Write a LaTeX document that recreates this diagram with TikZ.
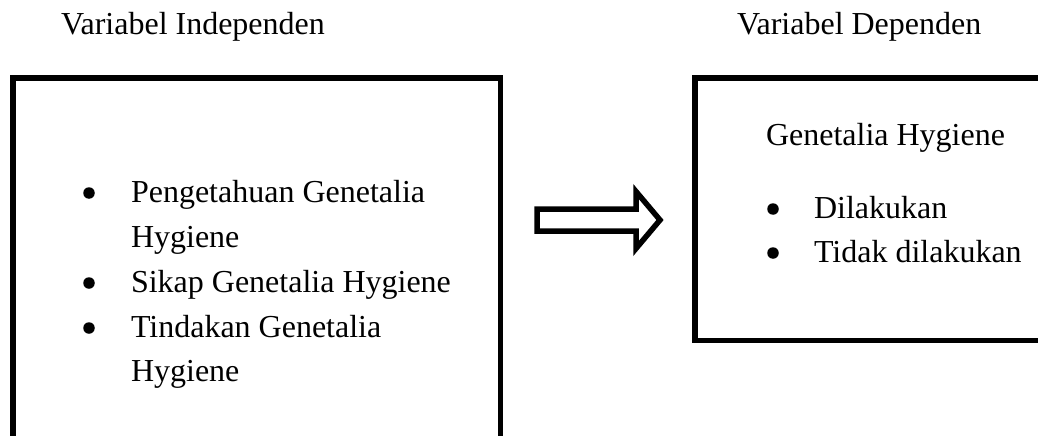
\documentclass[tikz,border=0pt]{standalone}
\usepackage{fontspec}
\setmainfont{Liberation Serif}
\begin{document}
\begin{tikzpicture}[x=1pt,y=-1pt,
  frame/.style={draw=black,line width=5.5pt,inner sep=0pt,outer sep=0pt,anchor=north west},
  label/.style={inner sep=0pt,outer sep=0pt,anchor=base west,font=\fontsize{32pt}{44.8pt}\selectfont},
  dot/.style={circle,fill=black,inner sep=0pt,outer sep=0pt,minimum size=11.5pt},
  hollowarrow/.style={draw=black,line width=5.5pt,fill=white,line join=miter}]
\useasboundingbox (0,0) rectangle (1038,436);
\clip (0,0) rectangle (1038,436);

% headings
\node[label] (hIndep) at (61,35) {Variabel Independen};
\node[label] (hDep) at (737,35) {Variabel Dependen};

% independent variables
\node[frame,minimum width=487.7pt,minimum height=390pt] (indep) at (12.8,78) {};
\node[dot] (b1) at (89,193) {};
\node[label] (t1) at (131,202) {Pengetahuan Genetalia};
\node[label] (t1b) at (131,247) {Hygiene};
\node[dot] (b2) at (89,283) {};
\node[label] (t2) at (131,292) {Sikap Genetalia Hygiene};
\node[dot] (b3) at (89,328) {};
\node[label] (t3) at (131,337) {Tindakan Genetalia};
\node[label] (t3b) at (131,381) {Hygiene};

% dependent variable
\node[frame,minimum width=420pt,minimum height=262.5pt] (dep) at (695,78) {};
\node[label] (d0) at (766,145) {Genetalia Hygiene};
\node[dot] (db1) at (773,209) {};
\node[label] (d1) at (814,218) {Dilakukan};
\node[dot] (db2) at (773,253) {};
\node[label] (d2) at (814,262) {Tidak dilakukan};

% block arrow between the boxes
\coordinate (aTail) at (537,220);
\coordinate (aTip) at (660,220);
\draw[hollowarrow] (aTail) ++(0,-11) -- ++(99,0) -- ++(0,-17.5) -- (aTip)
  -- ++(-24,28.5) -- ++(0,-17.5) -- ++(-99,0) -- cycle;
\end{tikzpicture}
\end{document}
